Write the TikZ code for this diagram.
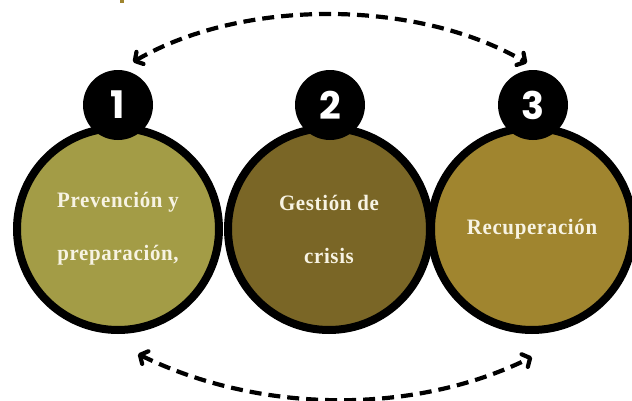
\documentclass[tikz,border=0pt]{standalone}
\usepackage{fontspec}
\usetikzlibrary{arrows.meta}
\newfontfamily\labelfont[LetterSpace=3, FakeStretch=0.95]{Liberation Serif}
\newfontfamily\numfont{Poppins}
\definecolor{oliveA}{HTML}{A39C46}
\definecolor{oliveB}{HTML}{7A6626}
\definecolor{oliveC}{HTML}{A0852F}
\definecolor{cream}{HTML}{F7F3E3}

\begin{document}
\begin{tikzpicture}[x=1pt, y=1pt,
    phase/.style={circle, draw=black, line width=8pt, minimum size=202pt, inner sep=0pt, align=center, text=cream, font=\labelfont\bfseries\fontsize{22}{53}\selectfont},
    num/.style={circle, fill=black, minimum size=70pt, inner sep=0pt, text=white, font=\numfont\bfseries\fontsize{38}{38}\selectfont},
    backarrow/.style={line width=4.2pt, dash pattern=on 12pt off 7pt, {Straight Barb[round,length=6pt,width=14pt]}-{Straight Barb[round,length=6pt,width=14pt]}}]
                \useasboundingbox (0,0) rectangle (632,400);
                \fill[oliveC] (120,397) rectangle (124,400);
                \node[phase, fill=oliveA] (p1) at (118,171) {Prevención y\\preparación,};
                \node[phase, fill=oliveB] (p2) at (329,171) {Gestión de\\crisis};
                \node[phase, fill=oliveC] (p3) at (532,171) {Recuperación};
                \node[num] (n1) at (118,295) {1};
                \node[num] (n2) at (330,295) {2};
                \node[num] (n3) at (533,295) {3};
                \coordinate (t1) at (133,338);
                \coordinate (t3) at (527,337);
                \coordinate (b1) at (138,46);
                \coordinate (b3) at (532,43);
                \draw[backarrow] (t1) .. controls +(110,64) and +(-110,64) .. (t3);
                \draw[backarrow] (b1) .. controls +(120,-59) and +(-120,-59) .. (b3);
                \end{tikzpicture}
\end{document}
